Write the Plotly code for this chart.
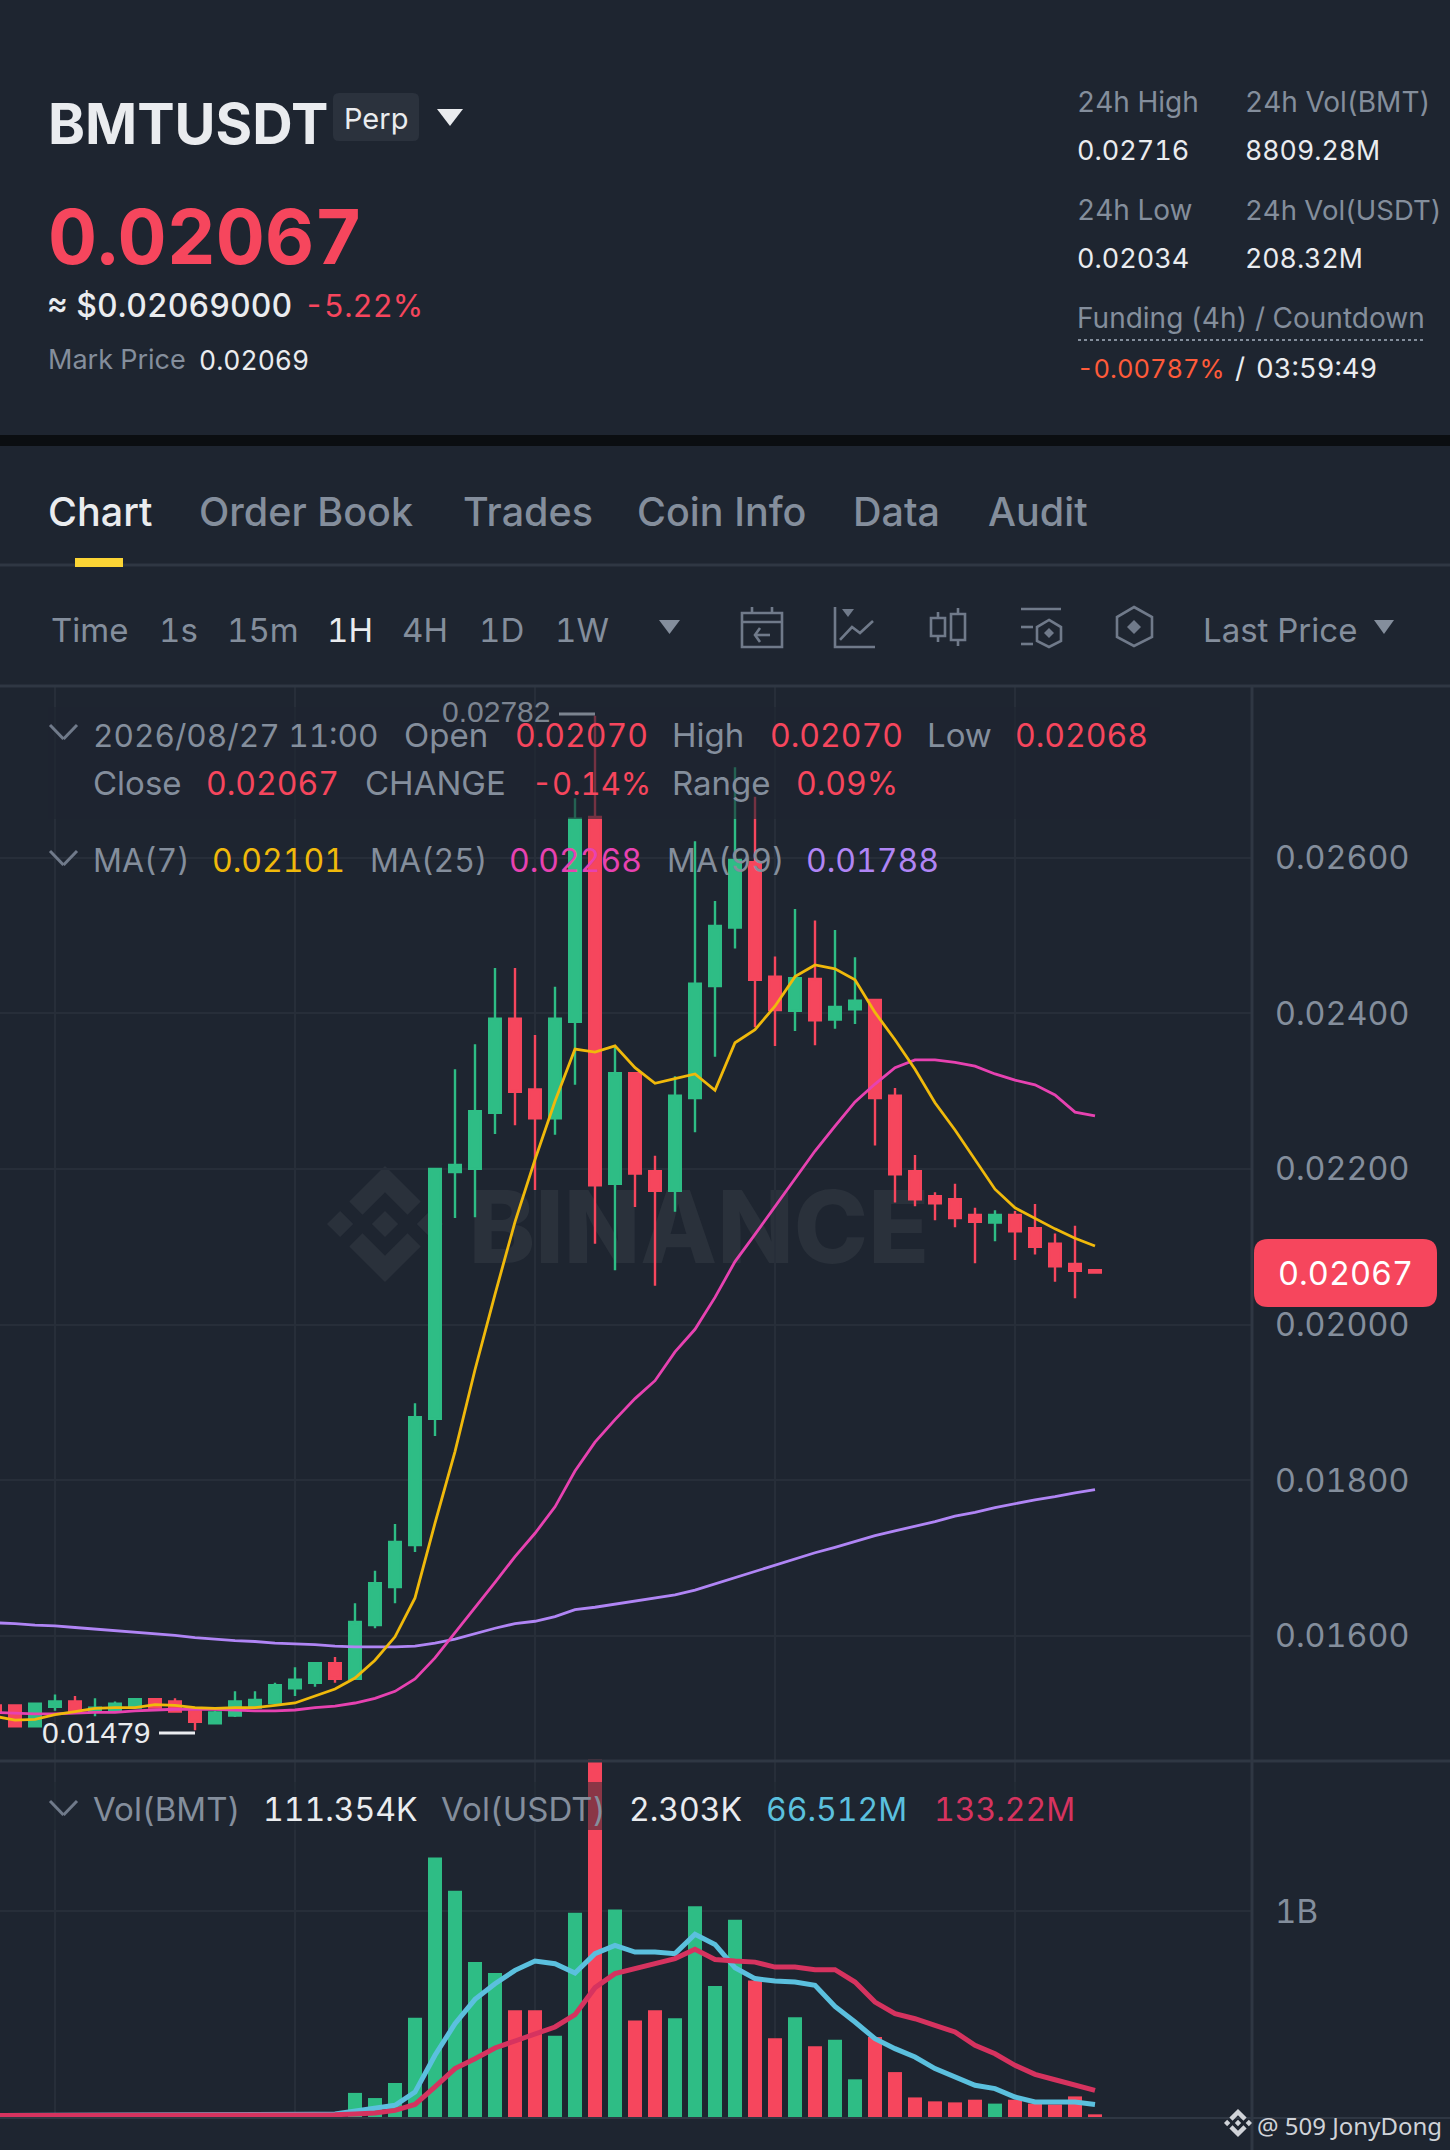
import plotly.graph_objects as go

W, H = 1450, 2150
BG = "#1E2530"
GRID = "#272E39"
SEP = "#2F3743"
GREY = "#848E9C"
WHITE = "#EAECEF"
RED = "#F6465D"
GREEN = "#2EBD85"
ICON = "#707A8A"
MA99_COLOR = "#B085F5"
FONT = "Inter"

open_ = [.01511, .01511, .01484, .01509, .01516, .01503, .01503, .01508, .01519, .01516, .01503, .01488, .01498, .01508,
         .01514, .01533, .01540, .01565, .01545, .01614, .01663, .01717, .01879, .02196, .02200, .02272, .02393, .02302,
         .02265, .02389, .02652, .02181, .02323, .02197, .02172, .02291, .02435, .02510, .02594, .02447, .02403, .02444,
         .02392, .02405, .02417, .02294, .02197, .02165, .02161, .02141, .02131, .02141, .02124, .02104, .02078, .02070]
high = [.01513, .01512, .01513, .01525, .01523, .01520, .01516, .01520, .01520, .01520, .01504, .01504, .01529, .01529,
        .01540, .01560, .01566, .01573, .01642, .01684, .01744, .01899, .02200, .02328, .02360, .02458, .02458, .02372,
        .02434, .02676, .02782, .02358, .02323, .02217, .02319, .02621, .02544, .02716, .02678, .02473, .02534, .02519,
        .02507, .02472, .02417, .02304, .02218, .02170, .02181, .02150, .02147, .02146, .02155, .02117, .02127, .02070]
low = [.01502, .01484, .01483, .01504, .01501, .01497, .01502, .01507, .01507, .01502, .01479, .01488, .01496, .01507,
       .01513, .01523, .01535, .01540, .01544, .01610, .01642, .01708, .01857, .02137, .02138, .02245, .02256, .02173,
       .02244, .02308, .02104, .02070, .02151, .02050, .02145, .02247, .02344, .02483, .02382, .02358, .02377, .02359,
       .02380, .02386, .02230, .02157, .02152, .02134, .02125, .02079, .02107, .02083, .02090, .02055, .02034, .02067]
close = [.01503, .01484, .01513, .01516, .01503, .01508, .01513, .01519, .01508, .01503, .01490, .01502, .01516, .01518,
         .01537, .01544, .01565, .01545, .01618, .01668, .01721, .01881, .02200, .02205, .02274, .02393, .02299, .02265,
         .02393, .02650, .02179, .02323, .02194, .02172, .02294, .02438, .02512, .02597, .02443, .02404, .02445, .02391,
         .02408, .02416, .02291, .02193, .02161, .02156, .02137, .02132, .02141, .02120, .02100, .02075, .02069, .02067]

ma7 = [.01497, .01492, .01493, .01499, .01503, .01507, .01508, .01508, .01512, .01511, .01508, .01507, .01508, .01508,
       .01511, .01514, .01523, .01532, .01546, .01569, .01599, .01649, .01745, .01837, .01942, .02039, .02132, .02212,
       .02287, .02354, .02350, .02358, .02330, .02310, .02316, .02322, .02301, .02362, .02379, .02409, .02447, .02462,
       .02457, .02443, .02401, .02366, .02328, .02285, .02250, .02212, .02174, .02150, .02136, .02123, .02111, .02101]
ma25 = [.01502, .01501, .01500, .01500, .01501, .01502, .01502, .01504, .01505, .01506, .01506, .01506, .01505, .01504,
        .01504, .01505, .01508, .01510, .01514, .01520, .01529, .01545, .01572, .01604, .01636, .01669, .01702, .01732,
        .01766, .01812, .01849, .01878, .01905, .01928, .01965, .01994, .02035, .02081, .02116, .02152, .02187, .02223,
        .02255, .02286, .02309, .02330, .02340, .02340, .02337, .02332, .02322, .02314, .02308, .02295, .02273, .02268]
ma99 = [.01617, .01616, .01614, .01613, .01611, .01609, .01607, .01605, .01603, .01601, .01598, .01596, .01594, .01593,
        .01591, .01590, .01589, .01587, .01586, .01586, .01586, .01587, .01591, .01596, .01603, .01610, .01616, .01619,
        .01625, .01634, .01637, .01641, .01645, .01649, .01653, .01659, .01667, .01676, .01684, .01691, .01699, .01707,
        .01714, .01722, .01729, .01735, .01741, .01747, .01754, .01759, .01765, .01770, .01775, .01779, .01784, .01788]

# volumes in billions of BMT
vol = [.003, .004, .003, .005, .004, .003, .004, .003, .003, .004, .005, .003, .004, .003, .003, .004,
       .024, .004, .117, .092, .165, .482, 1.26, 1.099, .752, .699, .518, .518, .395, .992, 1.735, 1.008,
       .469, .518, .479, 1.023, .636, .958, .663, .382, .484, .343, .375, .183, .388, .218, .095, .076,
       .071, .084, .065, .084, .065, .061, .1, .013]
vol_ma_a = [.007, .007, .007, .007, .007, .007, .007, .007, .007, .007, .007, .007, .008, .009, .010, .012,
            .013, .015, .029, .04, .057, .121, .3, .453, .571, .647, .712, .757, .744, .699, .793, .833,
            .801, .801, .793, .887, .838, .725, .672, .66, .655, .639, .537, .461, .38, .332, .291, .235,
            .194, .154, .138, .097, .073, .07, .073, .061]
vol_ma_b = [.007, .007, .007, .007, .007, .007, .007, .007, .007, .007, .007, .007, .007, .008, .008, .009,
            .01, .011, .015, .019, .032, .061, .146, .235, .283, .335, .369, .405, .437, .497, .628, .696,
            .72, .749, .769, .814, .765, .757, .752, .728, .728, .715, .715, .655, .558, .502, .477, .445,
            .413, .348, .307, .251, .207, .181, .157, .129]

price_ticks = [.016, .018, .020, .022, .024, .026]
hour_grid = [3, 15, 27, 39, 51]
candles = list(range(len(close)))


def tabular(s):
    # reference digits are all one width, Inter needs asking for that
    return f'<span style="font-feature-settings:\'tnum\' 1">{s}</span>'


def px(x):
    return x / W


def py(y):
    return 1 - y / H


def poly(points, closed=True):
    # svg path in page pixels, turned into paper fractions
    d = "M" + " L".join(f"{px(x):.5f},{py(y):.5f}" for x, y in points)
    return d + (" Z" if closed else "")


annotations = []
shapes = []


def text(x, y, s, size, color, anchor="left", weight=None, family=FONT):
    annotations.append(dict(
        x=px(x), y=py(y), xref="paper", yref="paper", text=tabular(s), showarrow=False, xanchor=anchor, yanchor="middle",
        font=dict(size=size, color=color, family=family, weight=weight), borderpad=0, borderwidth=0))


def outline(points, closed=True, color=ICON, width=2.6):
    shapes.append(dict(type="path", xref="paper", yref="paper", path=poly(points, closed),
                       line=dict(color=color, width=width), layer="above"))


def filled(points, color=ICON, layer="above"):
    shapes.append(dict(type="path", xref="paper", yref="paper", path=poly(points), fillcolor=color,
                       line=dict(width=0), layer=layer))


def rect(x0, y0, x1, y1, color, layer="above", opacity=1.0):
    shapes.append(dict(type="rect", xref="paper", yref="paper", x0=px(x0), x1=px(x1), y0=py(y0), y1=py(y1),
                       fillcolor=color, line=dict(width=0), layer=layer, opacity=opacity))


def line(x0, y0, x1, y1, color=SEP, width=2, dash=None, layer="above"):
    shapes.append(dict(type="line", xref="paper", yref="paper", x0=px(x0), x1=px(x1), y0=py(y0), y1=py(y1),
                       line=dict(color=color, width=width, dash=dash), layer=layer))


def round_rect(x0, y0, x1, y1, r, color):
    # corners as short cubic paths
    X0, X1, Y0, Y1 = px(x0), px(x1), py(y0), py(y1)
    rx, ry = r / W, r / H
    d = (f"M{X0 + rx},{Y0} L{X1 - rx},{Y0} Q{X1},{Y0} {X1},{Y0 - ry} L{X1},{Y1 + ry} Q{X1},{Y1} {X1 - rx},{Y1} "
         f"L{X0 + rx},{Y1} Q{X0},{Y1} {X0},{Y1 + ry} L{X0},{Y0 - ry} Q{X0},{Y0} {X0 + rx},{Y0} Z")
    shapes.append(dict(type="path", xref="paper", yref="paper", path=d, fillcolor=color, line=dict(width=0), layer="above"))


def logo(cx, cy, r, color, layer):
    top = [(-.388, -.16), (0, -.548), (.388, -.16), (.615, -.386), (0, -1), (-.615, -.386)]
    filled([(cx + a * r, cy + b * r) for a, b in top], color, layer)
    filled([(cx + a * r, cy - b * r) for a, b in top], color, layer)
    for ox, oy, half in [(0, 0, .226), (-.774, 0, .226), (.774, 0, .226)]:
        filled([(cx + (ox - half) * r, cy), (cx + ox * r, cy - half * r), (cx + (ox + half) * r, cy), (cx + ox * r, cy + half * r)], color, layer)


# header block
text(48, 124, "BMTUSDT", 56, WHITE, weight=700)
round_rect(333, 93, 419, 141, 6, "#2B323D")
text(376, 119, "Perp", 29, WHITE, anchor="center")
filled([(437, 109), (463, 109), (450, 126)], WHITE)
text(48, 236, "0.02067", 76, RED, weight=700)
text(47, 306, "≈ $0.02069000", 32, WHITE, weight=500)
text(304, 306, "-5.22%", 31, RED)
text(48, 360, "Mark Price", 27, GREY)
text(199, 360, "0.02069", 26.5, WHITE)
text(1077, 102, "24h High", 28, GREY)
text(1245, 102, "24h Vol(BMT)", 28, GREY)
text(1077, 150, "0.02716", 27, WHITE)
text(1245, 150, "8809.28M", 26.7, WHITE)
text(1077, 210, "24h Low", 28, GREY)
text(1245, 210, "24h Vol(USDT)", 27.5, GREY)
text(1077, 258, "0.02034", 27, WHITE)
text(1245, 258, "208.32M", 26.7, WHITE)
text(1077, 318, "Funding (4h) / Countdown", 28, GREY)
line(1078, 340, 1423, 340, GREY, 2, "dot")
text(1077, 368, "-0.00787%", 25.5, "#FF5B3A")
text(1235, 368, "/", 28, WHITE)
text(1256, 368, "03:59:49", 27.4, WHITE)
rect(0, 435, W, 446, "#0B0E11")

# tabs
text(48, 512, "Chart", 39.5, WHITE, weight=500)
for x, s in [(199, "Order Book"), (463, "Trades"), (637, "Coin Info"), (853, "Data"), (988, "Audit")]:
    text(x, 512, s, 39.5, GREY, weight=500)
line(0, 565, W, 565, SEP, 3)
rect(75, 558, 123, 567, "#FCD535")

# toolbar
for x, s, c in [(51, "Time", GREY), (159, "1s", GREY), (227, "15m", GREY), (327, "1H", WHITE), (402, "4H", GREY),
                (479, "1D", GREY), (555, "1W", GREY), (1203, "Last Price", GREY)]:
    text(x, 630, s, 33, c)
filled([(659, 620), (680, 620), (669.5, 634)], GREY)
filled([(1374, 620), (1394, 620), (1384, 634)], GREY)
outline([(742, 613), (782, 613), (782, 647), (742, 647)])
outline([(742, 622), (782, 622)], False)
outline([(752, 607), (752, 613)], False)
outline([(772, 607), (772, 613)], False)
outline([(770, 635), (755, 635)], False)
outline([(760, 628), (755, 635), (760, 642)], False)
outline([(835, 607), (835, 647), (875, 647)], False)
outline([(840, 640), (852, 627), (860, 633), (873, 621)], False)
filled([(842, 609), (854, 609), (848, 617)])
outline([(931, 618), (945, 618), (945, 636), (931, 636)])
outline([(938, 612), (938, 618)], False)
outline([(938, 636), (938, 642)], False)
outline([(951, 614), (965, 614), (965, 640), (951, 640)])
outline([(958, 608), (958, 614)], False)
outline([(958, 640), (958, 646)], False)
outline([(1021, 609), (1061, 609)], False)
outline([(1021, 627), (1033, 627)], False)
outline([(1021, 644), (1033, 644)], False)
outline([(1049, 620), (1061, 627), (1061, 641), (1049, 647), (1037, 641), (1037, 627)])
filled([(1044, 633), (1049, 628), (1054, 633), (1049, 638)])
outline([(1134, 607), (1152, 617), (1152, 637), (1134, 646), (1117, 637), (1117, 617)])
filled([(1127, 627), (1134, 620), (1141, 627), (1134, 634)])

# panel frame
line(0, 686, W, 686, SEP, 3)
line(0, 1761, W, 1761, SEP, 3)
line(0, 2118, W, 2118, SEP, 2)
line(1252, 686, 1252, H, SEP, 3)

# watermark under the candles
logo(385, 1224, 58, "#2A313B", "below")
shapes.append(dict(type="rect", xref="paper", yref="paper", x0=px(440), x1=px(958), y0=py(1180), y1=py(1266),
                   fillcolor="rgba(0,0,0,0)", line=dict(width=0), layer="below",
                   label=dict(text="BINANCE", textposition="middle center",
                              font=dict(size=100, color="#2A313B", family=FONT, weight=800))))

# overlay behind the legend rows dims what sits under them
rect(48, 707, 1160, 819, BG, opacity=0.6)
rect(48, 1782, 1085, 1830, BG, opacity=0.5)

# legend rows
line(50, 725, 63.5, 739, ICON, 3)
line(63.5, 739, 77, 725, ICON, 3)
text(93, 735, "2026/08/27 11:00", 31.6, GREY)
text(404, 735, "Open", 33, GREY)
text(515, 735, "0.02070", 32, RED)
text(672, 735, "High", 33, GREY)
text(770, 735, "0.02070", 32, RED)
text(927, 735, "Low", 33, GREY)
text(1015, 735, "0.02068", 32, RED)
text(93, 783, "Close", 33, GREY)
text(206, 783, "0.02067", 32, RED)
text(365, 783, "CHANGE", 33, GREY)
text(532, 783, "-0.14%", 31, RED)
text(672, 783, "Range", 33, GREY)
text(796, 783, "0.09%", 32, RED)
line(50, 851, 63.5, 865, ICON, 3)
line(63.5, 865, 77, 851, ICON, 3)
text(93, 860, "MA(7)", 32, GREY)
text(212, 860, "0.02101", 32, "#F0B90B")
text(370, 860, "MA(25)", 32, GREY)
text(509, 860, "0.02268", 32, "#E742B1")
text(667, 860, "MA(99)", 32, GREY)
text(806, 860, "0.01788", 32, MA99_COLOR)

line(50, 1801, 63.5, 1815, ICON, 3)
line(63.5, 1815, 77, 1801, ICON, 3)
text(93, 1809, "Vol(BMT)", 33, GREY)
text(263, 1809, "111.354K", 32, WHITE)
text(441, 1809, "Vol(USDT)", 33, GREY)
text(629, 1809, "2.303K", 32, WHITE)
text(766, 1809, "66.512M", 32, "#5BC0DE")
text(934, 1809, "133.22M", 32, "#D6335F")

# extreme price labels
text(442, 711, "0.02782", 30, "#7C8490", family="Liberation Sans")
line(559, 714, 595, 714, "#7C8490", 3)
text(42, 1732, "0.01479", 30, WHITE, family="Liberation Sans")
line(159, 1733, 195, 1733, WHITE, 3)

# last price tag
round_rect(1254, 1239, 1437, 1307, 14, RED)
text(1345.5, 1273, "0.02067", 32.5, "#FFFFFF", anchor="center")

# footer credit
logo(1238, 2123, 14, "#D0D3D8", "above")
text(1257, 2125, "@ 509 JonyDong", 24, "#D0D3D8", family="Noto Sans")

bar_colors = [GREEN if c >= o else RED for o, c in zip(open_, close)]

fig = go.Figure()
fig.add_trace(go.Candlestick(
    x=candles, open=open_, high=high, low=low, close=close, xaxis="x", yaxis="y",
    increasing=dict(line=dict(color=GREEN, width=2.4), fillcolor=GREEN),
    decreasing=dict(line=dict(color=RED, width=2.4), fillcolor=RED), whiskerwidth=0, showlegend=False))
for values, color in [(ma99, MA99_COLOR), (ma25, "#E742B1"), (ma7, "#F0B90B")]:
    fig.add_trace(go.Scatter(x=candles, y=values, mode="lines", line=dict(color=color, width=2.8), xaxis="x", yaxis="y", showlegend=False))
fig.add_trace(go.Bar(x=candles, y=vol, marker=dict(color=bar_colors, line=dict(width=0)), width=0.7, xaxis="x2", yaxis="y2", showlegend=False))
for values, color in [(vol_ma_a, "#5BC0DE"), (vol_ma_b, "#D6335F")]:
    fig.add_trace(go.Scatter(x=candles, y=values, mode="lines", line=dict(color=color, width=5), xaxis="x2", yaxis="y2", showlegend=False))

x_range = [0.25, 62.85]
x_domain = [0, 1252 / W]
fig.update_layout(
    width=W, height=H, margin=dict(l=0, r=0, t=0, b=0), paper_bgcolor=BG, plot_bgcolor=BG,
    font=dict(family=FONT, color=GREY), boxgap=0.42, boxgroupgap=0, bargap=0.3, showlegend=False,
    annotations=annotations, shapes=shapes,
    xaxis=dict(domain=x_domain, range=x_range, anchor="y", tickmode="array", tickvals=hour_grid, showticklabels=False,
               gridcolor=GRID, gridwidth=2, zeroline=False, rangeslider=dict(visible=False), showline=False, ticks=""),
    yaxis=dict(domain=[py(1761), py(686)], range=[0.014395, 0.028203], side="right", anchor="x", tickmode="array",
               tickvals=price_ticks, ticktext=[tabular(f"{t:.5f}") for t in price_ticks],
               tickfont=dict(size=32.3, color=GREY, family=FONT),
               ticklabelstandoff=22, gridcolor=GRID, gridwidth=2, zeroline=False, showline=False, ticks=""),
    xaxis2=dict(domain=x_domain, range=x_range, anchor="y2", tickmode="array", tickvals=hour_grid, showticklabels=False,
                gridcolor=GRID, gridwidth=2, zeroline=False, showline=False, ticks=""),
    yaxis2=dict(domain=[py(2117), py(1758)], range=[0, 1.743], side="right", anchor="x2", tickmode="array", tickvals=[1],
                ticktext=[tabular("1B")], tickfont=dict(size=33, color=GREY, family=FONT), ticklabelstandoff=22, gridcolor=GRID, gridwidth=2,
                zeroline=False, showline=False, ticks=""),
)

fig.write_html("out.html", config=dict(displayModeBar=False), post_script="document.body.style.margin='0';")
